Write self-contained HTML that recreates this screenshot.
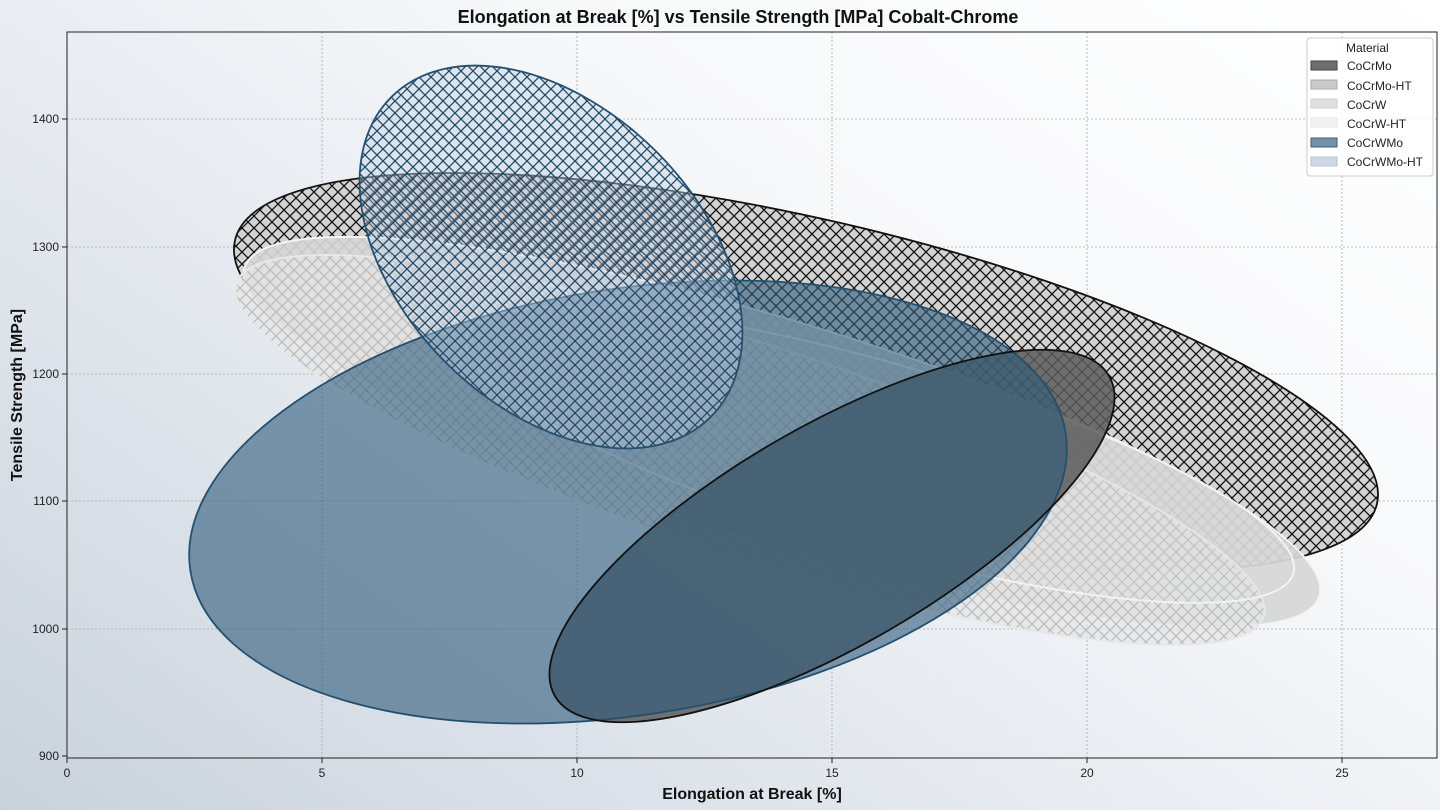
<!DOCTYPE html>
<html><head><meta charset="utf-8"><style>
html,body{margin:0;padding:0;width:1440px;height:810px;overflow:hidden}
body{background:linear-gradient(35deg,#c9d2dc 0%,#e3e8ee 35%,#f7f8fa 65%,#ffffff 100%);font-family:"Liberation Sans",sans-serif}
</style></head><body>
<svg width="1440" height="810" xmlns="http://www.w3.org/2000/svg" style="position:absolute;left:0;top:0">
<defs>
<pattern id="hk" patternUnits="userSpaceOnUse" width="12" height="12" patternTransform="rotate(-13)"><path d="M0,0L12,12M0,12L12,0" stroke="#111" stroke-width="1.3"/></pattern>
<pattern id="hb" patternUnits="userSpaceOnUse" width="12" height="12" patternTransform="rotate(-45)"><path d="M0,0L12,12M0,12L12,0" stroke="#1e4a6e" stroke-width="1.3"/></pattern>
<pattern id="hg" patternUnits="userSpaceOnUse" width="12" height="12" patternTransform="rotate(-18)"><path d="M0,0L12,12M0,12L12,0" stroke="#bdbdbd" stroke-width="1.3"/></pattern>
<clipPath id="pa"><rect x="67" y="32" width="1370" height="726"/></clipPath>
</defs>
<g stroke="#aaa" stroke-width="0.8" stroke-dasharray="2,2">
<line x1="322" y1="32" x2="322" y2="758"/><line x1="577" y1="32" x2="577" y2="758"/><line x1="832" y1="32" x2="832" y2="758"/><line x1="1087" y1="32" x2="1087" y2="758"/><line x1="1342" y1="32" x2="1342" y2="758"/>
<line x1="67" y1="119" x2="1437" y2="119"/><line x1="67" y1="247" x2="1437" y2="247"/><line x1="67" y1="374" x2="1437" y2="374"/><line x1="67" y1="501" x2="1437" y2="501"/><line x1="67" y1="629" x2="1437" y2="629"/>
</g>
<g clip-path="url(#pa)">
<!-- CoCrMo-HT -->
<g transform="translate(806,372) rotate(13)"><ellipse rx="586" ry="153" fill="#d3d3d3"/><ellipse rx="586" ry="153" fill="url(#hk)" stroke="#111" stroke-width="1.8"/></g>
<!-- CoCrW -->
<g transform="translate(782,432) rotate(17)"><ellipse rx="562" ry="110" fill="#d6d6d6" fill-opacity="0.92" stroke="#f4f4f4" stroke-width="2"/></g>
<!-- CoCrW-HT -->
<g transform="translate(750,450) rotate(18)"><ellipse rx="540" ry="106" fill="#e6e6e6" fill-opacity="0.75"/><ellipse rx="540" ry="106" fill="url(#hg)" stroke="#e8e8e8" stroke-width="2"/></g>
<!-- extra white outline -->
<g transform="translate(880,455) rotate(16)"><ellipse rx="430" ry="92" fill="#dddddd" fill-opacity="0.2" stroke="#f2f2f2" stroke-width="2"/></g>
<!-- CoCrMo fill -->
<g transform="translate(832,536) rotate(-30)"><ellipse rx="320" ry="110" fill="#5a5a5a" fill-opacity="0.85"/></g>
<!-- CoCrWMo -->
<g transform="translate(628,502) rotate(-9)"><ellipse rx="443" ry="213" fill="#2f5a7c" fill-opacity="0.6" stroke="#24506f" stroke-width="1.8"/></g>
<!-- CoCrMo outline -->
<g transform="translate(832,536) rotate(-30)"><ellipse rx="320" ry="110" fill="none" stroke="#111" stroke-width="1.8"/></g>
<!-- CoCrWMo-HT -->
<g transform="translate(551,257) rotate(45)"><ellipse rx="226" ry="149" fill="#c5d3df" fill-opacity="0.45"/><ellipse rx="226" ry="149" fill="url(#hb)" stroke="#24506f" stroke-width="1.8"/></g>
</g>
<rect x="67" y="32" width="1370" height="726" fill="none" stroke="#222" stroke-width="1"/>
<g stroke="#222" stroke-width="1">
<line x1="67" y1="758" x2="67" y2="763"/><line x1="322" y1="758" x2="322" y2="763"/><line x1="577" y1="758" x2="577" y2="763"/><line x1="832" y1="758" x2="832" y2="763"/><line x1="1087" y1="758" x2="1087" y2="763"/><line x1="1342" y1="758" x2="1342" y2="763"/>
<line x1="62" y1="119" x2="67" y2="119"/><line x1="62" y1="247" x2="67" y2="247"/><line x1="62" y1="374" x2="67" y2="374"/><line x1="62" y1="501" x2="67" y2="501"/><line x1="62" y1="629" x2="67" y2="629"/><line x1="62" y1="756" x2="67" y2="756"/>
</g>
<g font-size="12" fill="#222" text-anchor="middle">
<text x="67" y="777">0</text><text x="322" y="777">5</text><text x="577" y="777">10</text><text x="832" y="777">15</text><text x="1087" y="777">20</text><text x="1342" y="777">25</text>
</g>
<g font-size="12" fill="#222" text-anchor="end">
<text x="59" y="123">1400</text><text x="59" y="251">1300</text><text x="59" y="378">1200</text><text x="59" y="505">1100</text><text x="59" y="633">1000</text><text x="59" y="760">900</text>
</g>
<text x="738" y="23" font-size="18" font-weight="bold" text-anchor="middle" fill="#111">Elongation at Break [%] vs Tensile Strength [MPa] Cobalt-Chrome</text>
<text x="752" y="799" font-size="16" font-weight="bold" text-anchor="middle" fill="#111">Elongation at Break [%]</text>
<text transform="translate(22,395) rotate(-90)" font-size="16" font-weight="bold" text-anchor="middle" fill="#111">Tensile Strength [MPa]</text>
<rect x="1307" y="38" width="126" height="138" rx="3" fill="#fff" fill-opacity="0.85" stroke="#ccc"/>
<g font-size="12" fill="#222">
<text x="1346" y="52">Material</text>
<rect x="1311" y="61" width="26" height="9" fill="#6e6e6e" stroke="#444"/><text x="1347" y="70">CoCrMo</text>
<rect x="1311" y="80" width="26" height="9" fill="#cacaca" stroke="#aaa"/><text x="1347" y="90">CoCrMo-HT</text>
<rect x="1311" y="99" width="26" height="9" fill="#e0e0e0" stroke="#d0d0d0"/><text x="1347" y="109">CoCrW</text>
<rect x="1311" y="118" width="26" height="9" fill="#f1f1f1" stroke="#e6e6e6"/><text x="1347" y="128">CoCrW-HT</text>
<rect x="1311" y="138" width="26" height="9" fill="#7391ab" stroke="#3b6080"/><text x="1347" y="147">CoCrWMo</text>
<rect x="1311" y="157" width="26" height="9" fill="#cdd8e2" stroke="#b5c4d2"/><text x="1347" y="166">CoCrWMo-HT</text>
</g>
</svg>
</body></html>
